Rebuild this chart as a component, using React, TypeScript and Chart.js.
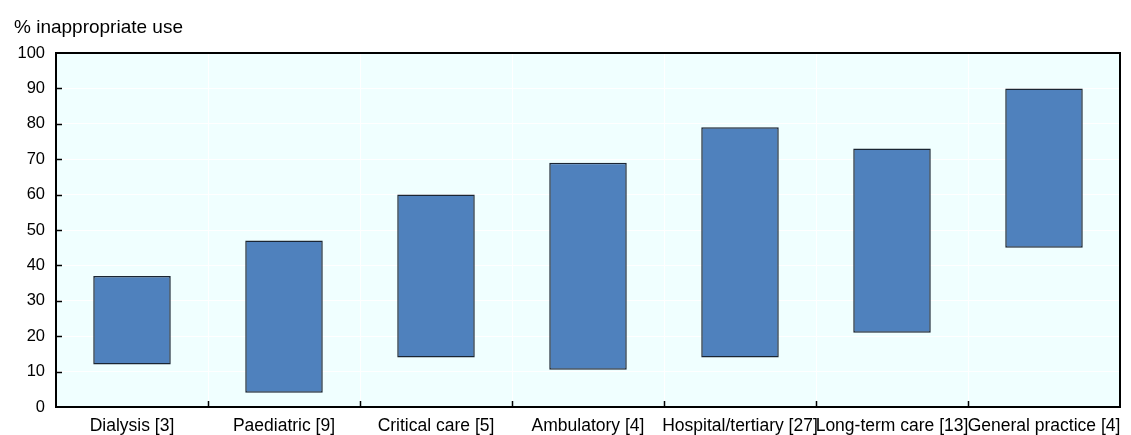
import React, { useEffect, useRef } from "react";
import { Chart, registerables } from "chart.js";

Chart.register(...registerables);

const categories = [
  "Dialysis [3]",
  "Paediatric [9]",
  "Critical care [5]",
  "Ambulatory [4]",
  "Hospital/tertiary [27]",
  "Long-term care [13]",
  "General practice [4]",
];
const lowValues = [12, 4, 14, 10.5, 14, 21, 45];
const highValues = [37, 47, 60, 69, 79, 73, 90];
const yTitle = "% inappropriate use";

const FONT = "'Liberation Sans', Arial, sans-serif";

const framePlugin = {
  id: "frame",
  beforeDraw(chart: any) {
    const { ctx, chartArea } = chart;
    ctx.save();
    ctx.fillStyle = "#F0FFFF";
    ctx.fillRect(chartArea.left, chartArea.top, chartArea.right - chartArea.left, chartArea.bottom - chartArea.top);
    ctx.restore();
  },
  afterDatasetsDraw(chart: any) {
    const { ctx, chartArea, scales } = chart;
    ctx.save();
    ctx.strokeStyle = "#000";
    ctx.lineWidth = 2;
    ctx.strokeRect(chartArea.left, chartArea.top, chartArea.right - chartArea.left, chartArea.bottom - chartArea.top);
    ctx.lineWidth = 1.5;
    const y = scales.y;
    for (let v = 10; v < 100; v += 10) {
      const py = Math.round(y.getPixelForValue(v)) + 0.5;
      ctx.beginPath();
      ctx.moveTo(chartArea.left, py);
      ctx.lineTo(chartArea.left + 6, py);
      ctx.stroke();
    }
    const n = categories.length;
    const w = (chartArea.right - chartArea.left) / n;
    for (let i = 1; i < n; i++) {
      const px = Math.round(chartArea.left + i * w) + 0.5;
      ctx.beginPath();
      ctx.moveTo(px, chartArea.bottom);
      ctx.lineTo(px, chartArea.bottom - 6);
      ctx.stroke();
    }
    ctx.fillStyle = "#000";
    ctx.font = `19px ${FONT}`;
    ctx.textAlign = "left";
    ctx.textBaseline = "middle";
    ctx.fillText(yTitle, 14, 28);
    ctx.restore();
  },
};

export default function App() {
  const ref = useRef<HTMLCanvasElement>(null);
  useEffect(() => {
    const chart = new Chart(ref.current!, {
      type: "bar",
      data: {
        labels: categories,
        datasets: [
          {
            data: categories.map((_, i) => [lowValues[i], highValues[i]]) as any,
            backgroundColor: "#4F81BD",
            borderColor: "#1A2533",
            borderWidth: 1.5,
            borderSkipped: false,
            barPercentage: 0.51,
            categoryPercentage: 1,
          },
        ],
      },
      options: {
        animation: false,
        responsive: false,
        maintainAspectRatio: false,
        layout: { padding: { left: 0, right: 11, top: 53, bottom: 0 } },
        plugins: { legend: { display: false }, tooltip: { enabled: false } },
        scales: {
          x: {
            offset: true,
            grid: { color: "#FFFFFF", lineWidth: 1, offset: true, drawTicks: false },
            border: { display: false },
            ticks: { color: "#000", font: { family: FONT, size: 17.5 }, padding: 9, maxRotation: 0, autoSkip: false },
            afterFit(s: any) {
              s.height = 28;
            },
          },
          y: {
            min: 0,
            max: 100,
            grid: { color: "#FFFFFF", lineWidth: 1, drawTicks: false },
            border: { display: false },
            ticks: { stepSize: 10, color: "#000", font: { family: FONT, size: 16.5 }, padding: 11 },
            afterFit(s: any) {
              s.width = 56;
            },
          },
        },
      },
      plugins: [framePlugin],
    });
    return () => chart.destroy();
  }, []);
  return (
    <div style={{ position: "fixed", left: 0, top: 0, width: 1131, height: 435, background: "#fff" }}>
      <canvas ref={ref} width={1131} height={435} style={{ width: 1131, height: 435 }} />
    </div>
  );
}
